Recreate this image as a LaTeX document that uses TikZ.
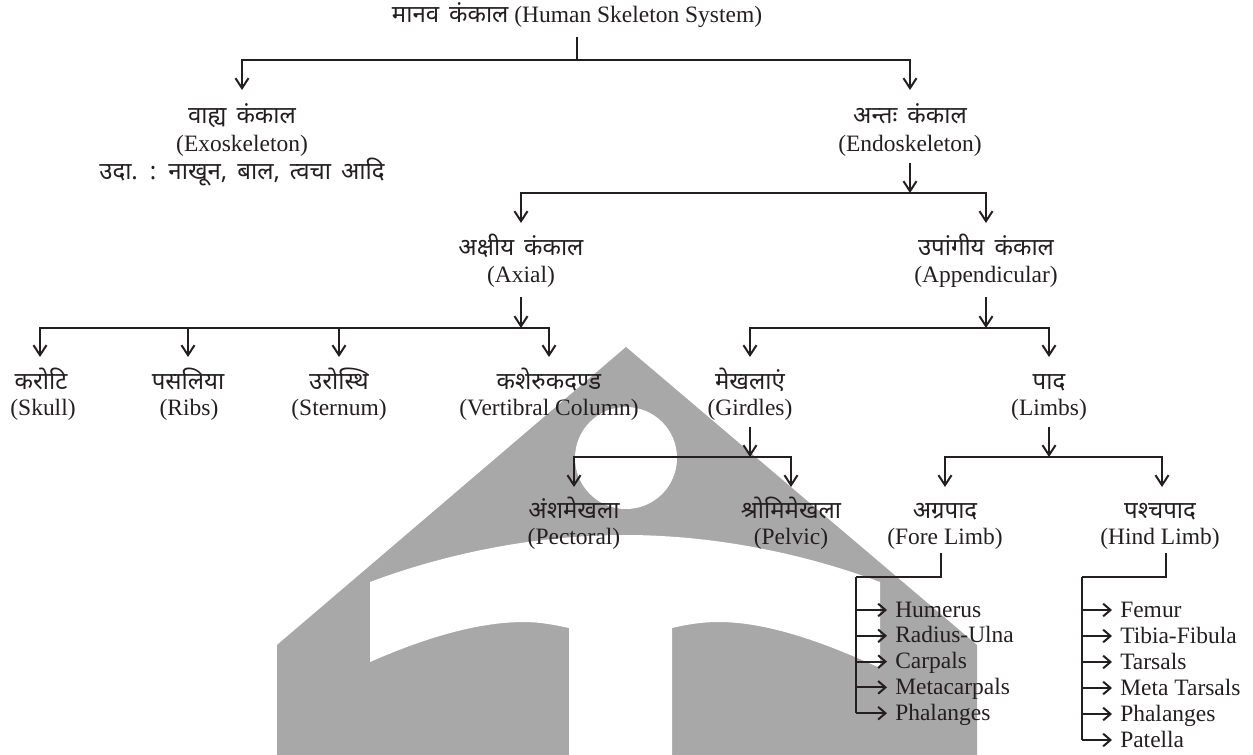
\documentclass[tikz,border=0pt]{standalone}
\usepackage{fontspec}
\setmainfont{Liberation Serif}
\newfontfamily\hifont[Script=Devanagari,WordSpace=1.6]{Noto Sans}
\usetikzlibrary{arrows.meta,calc}
\definecolor{wm}{RGB}{168,168,168}
\definecolor{ink}{RGB}{35,31,32}
\newcommand{\hisz}{\hifont\fontsize{18}{22}\selectfont}
\begin{document}
\begin{tikzpicture}[x=0.75pt,y=-0.75pt,
  ln/.style={line width=1.5pt, draw=ink},
  arr/.style={ln,-{Straight Barb[length=7.5pt,width=9.8pt]}},
  larr/.style={ln,-{Straight Barb[length=5.5pt,width=9.5pt]}},
  en/.style={font=\fontsize{17.6}{21}\selectfont, text=ink, inner sep=0pt, anchor=base},
  hi/.style={font=\hisz, text=ink, inner sep=0pt, anchor=base},
  item/.style={en, anchor=base west}]
\useasboundingbox (0,0) rectangle (1253,755);
% watermark
\fill[wm] (277,755) -- (277,645) -- (626,347) -- (977,645) -- (977,755) -- cycle;
\fill[white] (626,458) circle[radius=51];
\fill[white] (370,582) .. controls (450,552) and (540,535) .. (625,535)
  .. controls (710,535) and (800,552) .. (880,582) -- (880,668)
  .. controls (830,645) and (770,622) .. (719,622)
  .. controls (700,622) and (685,625) .. (672,628) -- (672,755) -- (569,755) -- (569,628)
  .. controls (555,625) and (540,622) .. (524,622)
  .. controls (475,622) and (420,640) .. (370,662) -- cycle;
% nodes
\node[en] (root) at (577,23) {{\hisz मानव कंकाल} (Human Skeleton System)};
\node[hi] (exoH) at (242,124) {वाह्य कंकाल};
\node[en] (exoE) at (242,152) {(Exoskeleton)};
\node[hi] (exoX) at (242,180) {उदा. : नाखून, बाल, त्वचा आदि};
\node[hi] (endoH) at (910,124) {अन्तः कंकाल};
\node[en] (endoE) at (910,152) {(Endoskeleton)};
\node[hi] (axH) at (521,256) {अक्षीय कंकाल};
\node[en] (axE) at (521,283) {(Axial)};
\node[hi] (apH) at (986,256) {उपांगीय कंकाल};
\node[en] (apE) at (986,283) {(Appendicular)};
\node[hi] (skH) at (41,390) {करोटि};
\node[en] (skE) at (43,416) {(Skull)};
\node[hi] (riH) at (188,390) {पसलिया};
\node[en] (riE) at (189,416) {(Ribs)};
\node[hi] (stH) at (339,390) {उरोस्थि};
\node[en] (stE) at (339,416) {(Sternum)};
\node[hi] (veH) at (549,390) {कशेरुकदण्ड};
\node[en] (veE) at (549,416) {(Vertibral Column)};
\node[hi] (giH) at (750,390) {मेखलाएं};
\node[en] (giE) at (750,416) {(Girdles)};
\node[hi] (liH) at (1049,390) {पाद};
\node[en] (liE) at (1049,416) {(Limbs)};
\node[hi] (peH) at (574,518) {अंशमेखला};
\node[en] (peE) at (574,544) {(Pectoral)};
\node[hi] (pvH) at (791,518) {श्रोमिमेखला};
\node[en] (pvE) at (791,544) {(Pelvic)};
\node[hi] (foH) at (945,518) {अग्रपाद};
\node[en] (foE) at (945,544) {(Fore Limb)};
\node[hi] (hiH) at (1160,518) {पश्चपाद};
\node[en] (hiE) at (1160,544) {(Hind Limb)};
\node[item] (f1) at (895,617) {Humerus};
\node[item] (f2) at (895,642.8) {Radius-Ulna};
\node[item] (f3) at (895,668.6) {Carpals};
\node[item] (f4) at (895,694.4) {Metacarpals};
\node[item] (f5) at (895,720.2) {Phalanges};
\node[item] (h1) at (1120,617) {Femur};
\node[item] (h2) at (1120,643) {Tibia-Fibula};
\node[item] (h3) at (1120,669) {Tarsals};
\node[item] (h4) at (1120,695) {Meta Tarsals};
\node[item] (h5) at (1120,721) {Phalanges};
\node[item] (h6) at (1120,747) {Patella};
% junctions
\coordinate (j1) at (577,60);
\coordinate (j2) at (910,193);
\coordinate (j3) at (521,328);
\coordinate (j4) at (986,328);
\coordinate (j5) at (750,457);
\coordinate (j6) at (1049,457);
\coordinate (fb) at (856,577);
\coordinate (hb) at (1082,577);
% connectors
\draw[ln] ($(root.base)+(0,14)$) -- (j1);
\draw[arr] (j1) -| ($(exoH.base)+(0,-34)$);
\draw[arr] (j1) -| ($(endoH.base)+(0,-34)$);
\draw[arr] ($(endoE.base)+(0,11)$) -- (j2);
\draw[arr] (j2) -| ($(axH.base)+(0,-33)$);
\draw[arr] (j2) -| ($(apH.base)+(0,-33)$);
\draw[arr] ($(axE.base)+(0,14)$) -- (j3);
\foreach \c/\dx in {skH/-1,riH/0,stH/0,veH/0}
  \draw[arr] (j3) -| ($(\c.base)+(\dx,-33)$);
\draw[arr] ($(apE.base)+(0,14)$) -- (j4);
\draw[arr] (j4) -| ($(giH.base)+(0,-33)$);
\draw[arr] (j4) -| ($(liH.base)+(0,-33)$);
\draw[arr] ($(giE.base)+(0,11)$) -- (j5);
\draw[arr] (j5) -| ($(peH.base)+(0,-31)$);
\draw[arr] (j5) -| ($(pvH.base)+(0,-31)$);
\draw[arr] ($(liE.base)+(0,11)$) -- (j6);
\draw[arr] (j6) -| ($(foH.base)+(0,-31)$);
\draw[arr] (j6) -| ($(hiH.base)+(2,-31)$);
% limb brackets
\draw[ln] ($(foE.base)+(-4,9)$) |- (fb);
\draw[ln] ($(hiE.base)+(6,9)$) |- (hb);
\foreach \n in {f1,f2,f3,f4,f5} {
  \coordinate (\n-t) at ($(\n.base west)+(-8,-7)$);
  \draw[larr] (fb |- \n-t) -- (\n-t);
}
\draw[ln] (fb) -- (fb |- f5-t);
\foreach \n in {h1,h2,h3,h4,h5,h6} {
  \coordinate (\n-t) at ($(\n.base west)+(-8,-7)$);
  \draw[larr] (hb |- \n-t) -- (\n-t);
}
\draw[ln] (hb) -- (hb |- h6-t);
\end{tikzpicture}
\end{document}
